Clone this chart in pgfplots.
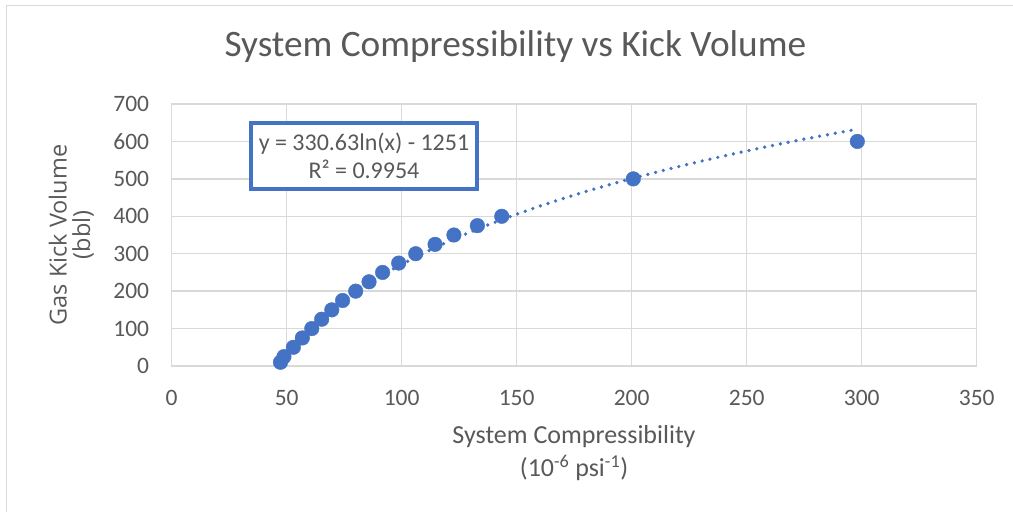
\documentclass[border=0pt]{standalone}
\usepackage{pgfplots}
\pgfplotsset{compat=1.18}
\usepackage{fontspec}
\setmainfont{Carlito}
\newfontfamily\osans{Open Sans}
\definecolor{txt}{RGB}{89,89,89}
\definecolor{grd}{RGB}{217,217,217}
\definecolor{xblue}{RGB}{68,114,196}
\begin{document}
\begin{tikzpicture}[x=1pt,y=1pt]
\path[use as bounding box] (0,0) rectangle (1013,-512);
\fill[white] (0,0) rectangle (1013,-512);
\draw[grd, line width=1.5pt] (6.5,-512) -- (6.5,-5.5) -- (1013,-5.5);
\begin{axis}[
  at={(171.7pt,-366pt)}, anchor=south west,
  scale only axis, width=805pt, height=262pt,
  xmin=0, xmax=350, ymin=0, ymax=700,
  xtick distance=50, ytick distance=100,
  grid=major, grid style={grd, line width=1.4pt},
  axis line style={grd, line width=1.4pt},
  major tick length=0pt,
  tick label style={font=\fontsize{23.5}{28}\selectfont, text=txt, inner sep=0pt},
  xticklabel style={anchor=center, yshift=-31.5pt},
  yticklabel style={anchor=east, xshift=-22.4pt},
  /pgf/number format/assume math mode=true,
  clip=false,
]
\addplot[xblue, line width=3.7pt, dash pattern=on 0pt off 8pt, line cap=round, smooth] coordinates {
(47.3,24.1) (50,42.4) (55,74.0) (60,102.7) (70,153.7) (80,197.8) (90,236.8) (100,271.6)
(120,331.9) (140,382.8) (160,427.0) (180,466.0) (200,500.8) (225,539.7) (250,574.6) (275,606.1) (298,632.6)
};
\addplot[only marks, mark=*, mark size=7.3pt, mark options={draw=xblue, fill=xblue}] coordinates {
(47.3,10) (48.8,25) (52.9,50) (56.8,75) (60.9,100) (65.2,125) (69.6,150) (74.3,175)
(80.0,200) (85.8,225) (91.7,250) (98.7,275) (106.1,300) (114.5,325) (122.7,350)
(132.9,375) (143.5,400) (200.7,500) (298.1,600)
};
\end{axis}
\node[anchor=base, text=txt, font=\fontsize{37.3}{44}\selectfont] at (515.4,-56.5) {System Compressibility vs Kick Volume};
\node[anchor=base, text=txt, font=\fontsize{26}{31}\selectfont] at (574,-443) {System Compressibility};
\node[anchor=base, text=txt, font=\fontsize{26}{31}\selectfont] at (574,-476.5) {(10\textsuperscript{-6} psi\textsuperscript{-1})};
\node[rotate=90, anchor=base, text=txt, font=\osans\fontsize{23.5}{28}\selectfont] at (66.7,-235) {Gas Kick Volume};
\node[rotate=90, anchor=base, text=txt, font=\osans\fontsize{23.5}{28}\selectfont] at (90,-235) {(bbl)};
\draw[xblue, line width=4pt, fill=white] (251,-123) rectangle (477,-189);
\node[anchor=base, text=txt, font=\fontsize{24}{29}\selectfont] at (364,-150) {y = 330.63ln(x) - 1251};
\node[anchor=base, text=txt, font=\fontsize{24}{29}\selectfont] at (364,-178.3) {R² = 0.9954};
\end{tikzpicture}
\end{document}
